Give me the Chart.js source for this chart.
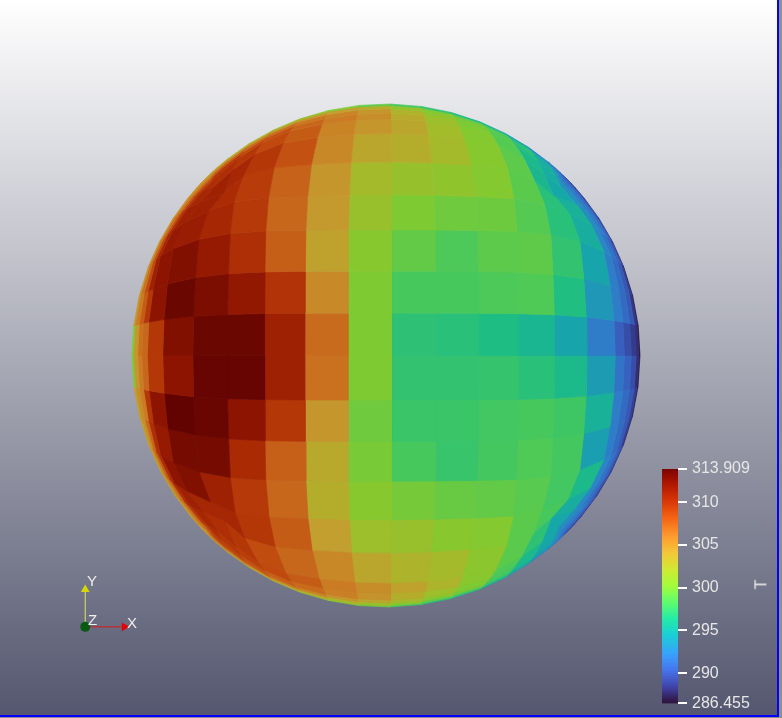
<!DOCTYPE html>
<html>
<head>
<meta charset="utf-8">
<title>T</title>
<script src="https://cdn.jsdelivr.net/npm/chart.js@4/dist/chart.umd.js"></script>
<style>
html, body { margin: 0; padding: 0; }
body {
    position: relative; width: 782px; height: 718px; overflow: hidden;
    background: #8e8f8f;
    font-family: "Liberation Sans", Arial, sans-serif;
}
#view {
    position: absolute; left: 0; top: 0; width: 777px; height: 715px;
    background: linear-gradient(to bottom, #ffffff 0%, #54576f 100%);
}
#frameR { position: absolute; left: 777px; top: 0; width: 2px; height: 717px; background: #0000ff; }
#frameB { position: absolute; left: 0; top: 715px; width: 779px; height: 2px; background: #0000ff; }
canvas { position: absolute; }
#sphere { left: 0; top: 0; }
#bar { left: 640px; top: 450px; }
#triad { left: 58px; top: 569px; }
.lbl { position: absolute; color: #eeeeee; font-size: 15px; line-height: 15px; }
#titleT { left: 756px; top: 577px; transform: rotate(-90deg); font-size: 16px; }
</style>
</head>
<body>
<div id="view"></div>
<canvas id="sphere" width="782" height="718"></canvas>
<canvas id="bar" width="130" height="268"></canvas>
<canvas id="triad" width="90" height="75"></canvas>
<span class="lbl" id="titleT">T</span>
<span class="lbl" style="left:87px;top:573px">Y</span>
<span class="lbl" style="left:88px;top:612px">Z</span>
<span class="lbl" style="left:127px;top:615px">X</span>
<div id="frameR"></div>
<div id="frameB"></div>
<script>
var lonEdges = [-90, -84, -78, -74, -70, -61.5, -49.5, -38.7, -28.6, -18.6, -8.6, 1.25, 11.3, 21.3, 31.4, 41.6, 52.3, 64.5, 69.8, 75, 80, 85, 90];
var latEdges = [90, 84, 79, 74.6, 70, 62, 50.3, 39.7, 30, 19.6, 9.7, 0, -10.2, -20, -30, -40.8, -51.7, -64.8, -71, -76.5, -80, -84, -90];

var T = [
    [304, 304, 304, 304, 303.5, 302.5, 302, 301.5, 300.8, 300, 299, 298, 297, 296, 295.2, 294, 292.5, 291.5, 291, 290.5, 290, 289.5],
    [304.5, 305, 305, 305.5, 305.5, 305.5, 305, 304.8, 304.5, 304, 303, 301, 300, 299, 298, 296.5, 294.5, 293, 292, 291, 290.5, 289],
    [304.5, 305, 306.5, 307, 307.5, 307.5, 307, 306.8, 306.2, 305.5, 304.5, 302.5, 300.8, 299.8, 298.5, 297, 295, 293.5, 292, 291, 290.3, 288.5],
    [304.5, 305.5, 307, 308.5, 309.5, 309.5, 308.5, 308, 307, 306, 305, 303.2, 301.5, 300, 298.5, 296.5, 295, 293.5, 292, 291, 290, 288],
    [304.5, 305.5, 307, 309, 310, 310, 309.5, 308.5, 307.5, 305.5, 304.5, 303.5, 301.8, 300.2, 298.5, 296, 295, 293, 292, 291, 290, 288],
    [304.5, 306, 307.5, 309.5, 310.5, 311, 310.5, 309.5, 308, 305.3, 303.5, 303, 302, 300.3, 298.8, 295.8, 294.5, 293, 292, 291, 290, 288],
    [304.5, 306.5, 308, 310, 311, 311, 310.2, 309.2, 307.2, 304.5, 302, 301.2, 300.8, 300.2, 298.7, 296.8, 295.4, 293, 292, 291, 290, 288],
    [304.5, 306.5, 308.5, 310.5, 311.5, 311.3, 310.5, 309.4, 307, 304.3, 301.3, 300, 299.5, 299.4, 298.5, 296.8, 295, 292.5, 291.5, 290.5, 289.5, 287.8],
    [304.5, 306.5, 308.5, 311, 312, 312.5, 311.5, 310, 307.4, 303.8, 300.4, 299, 298.2, 298.8, 298.9, 297.2, 294.3, 292, 291, 290, 288.8, 287.2],
    [304.5, 306, 307.5, 309.5, 312, 313.5, 312.8, 311.7, 309.7, 305.2, 300, 298, 298, 298.2, 298.3, 296.5, 293.5, 292, 291, 290, 288.3, 287],
    [300, 304.5, 306.5, 307, 309.5, 312.5, 313.5, 313.5, 311, 306.8, 300, 297, 296.8, 296.4, 295.7, 294.3, 292, 290.3, 289.5, 288.5, 288, 286.5],
    [300, 304.5, 306, 307, 309.5, 312, 313.7, 313.7, 311, 306.5, 300, 297.2, 297.2, 297.3, 296.8, 296, 293.8, 291.5, 290.5, 289.5, 288, 286.8],
    [304, 305, 306, 309.5, 312, 314, 313.6, 312, 309.5, 304.5, 299.5, 297.5, 297.5, 297.8, 298, 297.7, 295.4, 292, 291, 290, 288.7, 287],
    [304, 305, 307, 310, 311.5, 313, 313, 310.3, 307.3, 303.3, 299.8, 298, 297.4, 297.9, 298.3, 297.9, 294, 292, 291, 290, 288.7, 287.5],
    [304, 305.5, 307.5, 310, 312, 312.5, 311, 309.4, 307, 303, 300.4, 299.7, 299.2, 299, 298.6, 297.8, 296, 292.5, 291.5, 290.5, 289.5, 288],
    [304, 305.5, 307, 310, 311, 310.5, 310.5, 309.5, 307.5, 304, 301.5, 301.3, 300.5, 300.2, 298.7, 298, 295, 292.5, 291.5, 290.5, 289.5, 288],
    [304, 305.5, 307, 309.5, 310.5, 310, 309.5, 308.3, 307, 305.3, 303.5, 302.5, 302, 300.6, 298.7, 297, 294.5, 293, 292, 291, 289.8, 288.2],
    [304, 305.5, 307, 309, 310, 309.5, 309, 308.5, 307.5, 306, 305, 303.8, 302.5, 300.5, 298.2, 296, 294.5, 293, 292, 291, 289.8, 288.3],
    [304, 305.5, 307, 308.5, 309, 308.8, 308, 307.3, 306.8, 305.8, 304.7, 303, 301.5, 300, 298, 296, 294.3, 293, 292, 291, 289.8, 288.5],
    [304, 305, 306.5, 307, 307.5, 307.3, 306.8, 306, 305.5, 304.5, 303.5, 302, 300.5, 299.5, 297.5, 295.7, 294, 293, 292, 291, 290, 288.8],
    [304, 305, 305.5, 305.5, 305.5, 305, 304.5, 304, 303.5, 302.5, 301.5, 300.5, 299, 298, 296.5, 295, 293.5, 292.5, 292, 291, 290.5, 289],
    [304, 304, 304, 304, 303.8, 303, 302.5, 301.5, 300.8, 300.2, 299.6, 298, 296.8, 295.8, 294.5, 293, 292, 291.5, 291, 290.5, 290, 289.5]
];

var tMin = 286.455;
var tMax = 313.909;
var barTicks = [286.455, 290, 295, 300, 305, 310, 313.909];

// turbo lookup table for the colour bar
var cmapStops = [0, 0.07, 0.14, 0.21, 0.29, 0.36, 0.43, 0.5, 0.57, 0.64, 0.71, 0.79, 0.86, 0.93, 1];
var cmapColors = [
    [48, 18, 59], [65, 69, 171], [70, 117, 237], [57, 162, 252], [27, 207, 212],
    [36, 236, 166], [97, 252, 108], [164, 252, 59], [209, 232, 52], [243, 198, 58],
    [254, 155, 45], [243, 99, 21], [217, 56, 6], [177, 25, 1], [122, 4, 2]
];

function colorFor(value, shade) {
    var t = (value - tMin) / (tMax - tMin);
    t = Math.max(0, Math.min(1, t));
    var i = 0;
    while (i < cmapStops.length - 2 && t > cmapStops[i + 1]) i++;
    var f = (t - cmapStops[i]) / (cmapStops[i + 1] - cmapStops[i]);
    var c = cmapColors[i].map(function (v, k) {
        return Math.round((v + (cmapColors[i + 1][k] - v) * f) * shade);
    });
    return 'rgb(' + c.join(',') + ')';
}

// square grid in the middle, bends on to the circle towards the rim
function project(lon, lat) {
    var a = Math.sin(lon * Math.PI / 180);
    var b = Math.sin(lat * Math.PI / 180);
    var s = Math.max(Math.abs(a), Math.abs(b));
    var h = Math.pow(s, 2.5);
    var x = a * Math.sqrt(1 - b * b * h / 2);
    var y = b * Math.sqrt(1 - a * a * h / 2);
    // corners would stick out past the rim, pull them back in
    var r = Math.sqrt(x * x + y * y);
    var limit = 1 - (1 - s) * 0.4;
    if (r > limit) {
        x = x * limit / r;
        y = y * limit / r;
    }
    return { x: x, y: y };
}

var cellSets = [];
for (let r = 0; r < T.length; r++) {
    for (let c = 0; c < T[r].length; c++) {
        var color = colorFor(T[r][c], 0.8);
        cellSets.push({
            data: [
                project(lonEdges[c], latEdges[r]),
                project(lonEdges[c + 1], latEdges[r]),
                project(lonEdges[c + 1], latEdges[r + 1]),
                project(lonEdges[c], latEdges[r + 1]),
                project(lonEdges[c], latEdges[r])
            ],
            fill: 'shape',
            backgroundColor: color,
            borderColor: color,
            borderWidth: 0.7,
            pointRadius: 0,
            tension: 0
        });
    }
}

new Chart(document.getElementById('sphere'), {
    type: 'line',
    data: { datasets: cellSets },
    options: {
        responsive: false,
        animation: false,
        devicePixelRatio: 1,
        plugins: { legend: { display: false }, tooltip: { enabled: false } },
        scales: {
            x: { type: 'linear', display: false, min: -386 / 254, max: (782 - 386) / 254 },
            y: { type: 'linear', display: false, min: -(718 - 355.5) / 251.5, max: 355.5 / 251.5 }
        }
    }
});

// colour bar
var barSteps = [];
for (let v = 0; v < 118; v++) barSteps.push(tMin + (tMax - tMin) * v / 118);
var barSets = barSteps.map(function (v) {
    return {
        data: [[v, v + (tMax - tMin) / 118 + 0.03]],
        backgroundColor: colorFor(v + (tMax - tMin) / 236, 1),
        barPercentage: 1,
        categoryPercentage: 1,
        grouped: false
    };
});

new Chart(document.getElementById('bar'), {
    type: 'bar',
    data: { labels: ['T'], datasets: barSets },
    options: {
        responsive: false,
        animation: false,
        devicePixelRatio: 1,
        layout: { padding: { left: 22, top: 19, bottom: 11, right: 0 } },
        plugins: { legend: { display: false }, tooltip: { enabled: false } },
        scales: {
            x: { display: false, stacked: false },
            y: {
                position: 'right',
                min: tMin,
                max: tMax,
                afterBuildTicks: function (axis) {
                    axis.ticks = barTicks.map(function (v) { return { value: v }; });
                },
                border: { display: false },
                grid: { drawOnChartArea: false, color: '#ffffff', lineWidth: 2, tickLength: 9 },
                ticks: {
                    color: '#e6e6e6',
                    padding: 5,
                    autoSkip: false,
                    maxRotation: 0,
                    font: { family: '"Liberation Sans"', size: 16 },
                    callback: function (v) { return String(v); }
                },
                afterFit: function (axis) { axis.width = 130 - 22 - 16; }
            }
        }
    }
});

// orientation triad
var armX = [{ x: 0, y: 0 }, { x: 1, y: 0 }];
var armY = [{ x: 0, y: 0 }, { x: 0, y: 1 }];
var origin = [{ x: 0, y: 0 }];

new Chart(document.getElementById('triad'), {
    type: 'scatter',
    data: {
        datasets: [
            { data: origin, pointRadius: 5, backgroundColor: '#0b5a14', borderWidth: 0 },
            { data: [armX[1]], pointStyle: 'triangle', rotation: 90, pointRadius: 5, backgroundColor: '#e00000', borderWidth: 0 },
            { data: [armY[1]], pointStyle: 'triangle', rotation: 0, pointRadius: 5, backgroundColor: '#d8d800', borderWidth: 0 },
            { data: armX, showLine: true, borderColor: '#d81818', borderWidth: 1, pointRadius: 0 },
            { data: armY, showLine: true, borderColor: '#e4e45a', borderWidth: 1, pointRadius: 0 }
        ]
    },
    options: {
        responsive: false,
        animation: false,
        devicePixelRatio: 1,
        plugins: { legend: { display: false }, tooltip: { enabled: false } },
        scales: {
            x: { type: 'linear', display: false, min: -25 / 44, max: 65 / 44 },
            y: { type: 'linear', display: false, min: -14 / 43, max: 61 / 43 }
        }
    }
});
</script>
</body>
</html>
